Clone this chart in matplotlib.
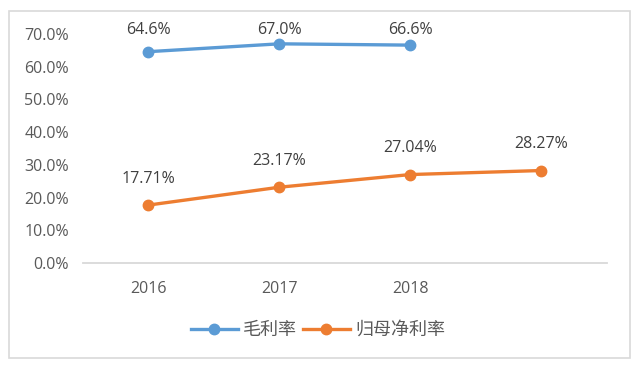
import matplotlib
matplotlib.use("Agg")
import matplotlib.pyplot as plt
from matplotlib.patches import Rectangle
from matplotlib.lines import Line2D

plt.rcParams['font.family'] = ['Open Sans', 'Noto Sans CJK SC', 'DejaVu Sans']

categories = ["2016", "2017", "2018", ""]
gross_margin = [0.646, 0.670, 0.666]
net_margin = [0.1771, 0.2317, 0.2704, 0.2827]
gross_labels = ["64.6%", "67.0%", "66.6%"]
net_labels = ["17.71%", "23.17%", "27.04%", "28.27%"]
series_names = ["毛利率", "归母净利率"]
yticks = [0, 0.1, 0.2, 0.3, 0.4, 0.5, 0.6, 0.7]

blue = "#5B9BD5"
orange = "#ED7D31"

fig = plt.figure(figsize=(6.4, 3.68), dpi=100)
ax = fig.add_axes([0.1297, 0.2853, 0.8183, 0.6223])

x_g = list(range(len(gross_margin)))
x_n = list(range(len(net_margin)))
ax.plot(x_g, gross_margin, color=blue, lw=2.4, marker='o', ms=7.5, clip_on=False, zorder=3)
ax.plot(x_n, net_margin, color=orange, lw=2.4, marker='o', ms=7.5, clip_on=False, zorder=3)

for xi, v, t in zip(x_g, gross_margin, gross_labels):
    ax.text(xi, min(v + 0.066, 0.712), t, ha='center', va='center', fontsize=11.5,
            color='#404040', clip_on=False)
for xi, v, t in zip(x_n, net_margin, net_labels):
    ax.annotate(t, (xi, v), xytext=(0, 19), textcoords='offset points', ha='center',
                va='center', fontsize=11.5, color='#404040', annotation_clip=False)

ax.set_xlim(-0.5, len(categories) - 0.5)
ax.set_ylim(0, 0.7)
ax.set_xticks(range(len(categories)))
ax.set_xticklabels(categories)
ax.set_yticks(yticks)
ax.set_yticklabels([f"{v*100:.1f}%" for v in yticks])
ax.tick_params(axis='both', length=0, labelsize=11.5, labelcolor='#595959')
ax.tick_params(axis='x', pad=13)
ax.tick_params(axis='y', pad=10)
for s in ['top', 'right', 'left']:
    ax.spines[s].set_visible(False)
ax.spines['bottom'].set_color('#D9D9D9')
ax.spines['bottom'].set_linewidth(1.3)

handles = [Line2D([0], [0], color=blue, lw=2.4, marker='o', ms=7.5),
           Line2D([0], [0], color=orange, lw=2.4, marker='o', ms=7.5)]
leg = fig.legend(handles, series_names, loc='center', bbox_to_anchor=(0.497, 0.103), ncol=2,
                 frameon=False, fontsize=13, handlelength=2.6, columnspacing=0.3,
                 handletextpad=0.3)
for t in leg.get_texts():
    t.set_color('#595959')
    t.set_family(['Noto Sans CJK SC', 'DejaVu Sans'])

fig.patches.append(Rectangle((9/640, 1 - 358/368), 621/640, 347/368, transform=fig.transFigure,
                             fill=False, edgecolor='#D9D9D9', lw=1.2))

fig.savefig("out.png", dpi=100)
